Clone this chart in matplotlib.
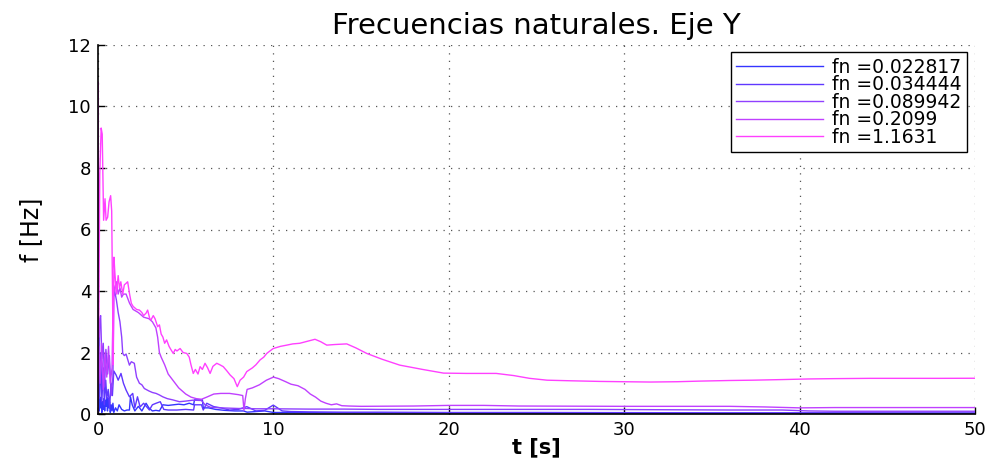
import numpy as np
import matplotlib.pyplot as plt

# Frecuencias naturales estimadas a lo largo del tiempo (eje Y)
fn = [0.022817, 0.034444, 0.089942, 0.2099, 1.1631]

t1 = [0, 0.03, 0.07, 0.1, 0.14, 0.18, 0.22, 0.26, 0.3, 0.34,
      0.38, 0.42, 0.46, 0.5, 0.54, 0.58, 0.62, 0.66, 0.7, 0.75,
      0.8, 0.85, 0.9, 1.0, 1.1, 1.2, 1.35, 1.5, 1.65, 1.79,
      1.85, 1.95, 2.1, 2.3, 2.5, 2.74, 2.9, 3.1, 3.3, 3.5,
      3.7, 4.0, 4.3, 4.6, 4.9, 5.2, 5.45, 5.5, 5.95, 6.0,
      6.3, 6.7, 7.2, 7.8, 8.3, 8.5, 9.0, 9.5, 10.0, 11.0,
      13, 15, 18, 20, 25, 30, 35, 40, 45, 50]
f1 = [0.0, 0.45, 0.1, 0.5, 0.2, 0.55, 0.05, 0.4, 0.15, 0.5,
      0.1, 0.45, 0.25, 0.55, 0.1, 0.5, 0.2, 0.4, 0.05, 0.3,
      0.1, 0.35, 0.05, 0.2, 0.1, 0.3, 0.15, 0.1, 0.13, 0.13,
      0.56, 0.3, 0.1, 0.25, 0.1, 0.35, 0.2, 0.1, 0.12, 0.1,
      0.3, 0.28, 0.3, 0.32, 0.3, 0.35, 0.3, 0.46, 0.46, 0.2,
      0.2, 0.15, 0.12, 0.1, 0.1, 0.06, 0.08, 0.1, 0.05, 0.05,
      0.04, 0.04, 0.035, 0.035, 0.03, 0.028, 0.026, 0.025, 0.023, 0.022817]

t2 = [0, 0.04, 0.1, 0.16, 0.22, 0.3, 0.36, 0.44, 0.5, 0.58,
      0.66, 0.74, 0.82, 0.9, 1.03, 1.15, 1.31, 1.45, 1.6, 1.79,
      1.98, 2.1, 2.25, 2.4, 2.6, 2.93, 3.1, 3.31, 3.55, 3.75,
      4.0, 4.5, 5.0, 5.45, 5.5, 5.9, 6.0, 6.2, 6.6, 7.0,
      7.5, 8.0, 8.48, 9.0, 9.5, 9.99, 10.5, 11.0, 12.0, 14.0,
      16, 20, 25, 30, 35, 40, 45, 50]
f2 = [0.1, 1.8, 0.5, 2.0, 0.4, 1.5, 0.3, 1.1, 0.5, 0.8,
      0.2, 1.0, 0.6, 1.4, 1.27, 1.1, 1.32, 1.0, 0.78, 0.56,
      0.67, 0.2, 0.56, 0.23, 0.35, 0.13, 0.3, 0.35, 0.4, 0.15,
      0.13, 0.13, 0.15, 0.13, 0.3, 0.3, 0.13, 0.35, 0.24, 0.2,
      0.13, 0.15, 0.24, 0.1, 0.12, 0.29, 0.1, 0.08, 0.07, 0.06,
      0.06, 0.05, 0.05, 0.045, 0.04, 0.04, 0.036, 0.034444]

t3 = [0, 0.05, 0.1, 0.15, 0.22, 0.3, 0.38, 0.45, 0.55, 0.65,
      0.75, 0.85, 0.9, 0.95, 1.05, 1.15, 1.25, 1.35, 1.41, 1.5,
      1.6, 1.79, 1.9, 2.07, 2.2, 2.36, 2.5, 2.64, 2.9, 3.1,
      3.31, 3.5, 3.69, 3.95, 4.26, 4.64, 5.0, 5.4, 5.9, 6.1,
      6.4, 7.0, 7.5, 8.0, 8.5, 9.0, 10.0, 12.0, 14.0, 16.0,
      18, 20, 24, 28, 32, 36, 39, 40.5, 42, 45,
      50]
f3 = [0.2, 1.5, 3.1, 3.2, 1.8, 2.3, 0.9, 2.1, 1.3, 1.9,
      0.6, 1.2, 3.8, 4.0, 3.7, 3.3, 3.0, 2.5, 1.97, 1.9,
      1.95, 1.59, 1.7, 1.65, 1.2, 1.0, 0.95, 0.83, 0.75, 0.7,
      0.67, 0.62, 0.56, 0.5, 0.46, 0.4, 0.42, 0.45, 0.44, 0.3,
      0.22, 0.2, 0.19, 0.18, 0.18, 0.17, 0.17, 0.16, 0.16, 0.15,
      0.15, 0.15, 0.15, 0.15, 0.14, 0.13, 0.13, 0.1, 0.09, 0.09,
      0.089942]

t4 = [0, 0.05, 0.12, 0.2, 0.3, 0.4, 0.5, 0.6, 0.7, 0.8,
      0.88, 0.95, 1.05, 1.15, 1.25, 1.35, 1.45, 1.6, 1.8, 2.0,
      2.3, 2.6, 2.9, 3.1, 3.3, 3.4, 3.5, 3.6, 3.8, 4.0,
      4.2, 4.4, 4.6, 4.8, 5.0, 5.3, 5.6, 5.9, 6.2, 6.6,
      7.0, 7.5, 8.0, 8.25, 8.32, 8.4, 8.5, 8.8, 9.2, 9.6,
      10.0, 10.3, 10.7, 11.0, 11.4, 11.8, 12.1, 12.4, 12.7, 13.0,
      13.3, 13.6, 13.9, 14.3, 15.0, 18.0, 20.0, 22.0, 24.0, 30.0,
      36.0, 38.0, 40.0, 42.0, 50.0]
f4 = [0.5, 2.2, 1.0, 2.3, 0.8, 2.0, 1.2, 2.2, 1.0, 1.5,
      4.2, 4.0, 4.3, 3.9, 4.1, 3.8, 3.9, 3.9, 3.6, 3.4,
      3.3, 3.15, 3.1, 3.0, 2.8, 2.5, 2.0, 1.85, 1.6, 1.3,
      1.15, 1.0, 0.85, 0.75, 0.65, 0.55, 0.5, 0.48, 0.55, 0.65,
      0.67, 0.67, 0.63, 0.6, 0.12, 0.5, 0.8, 0.85, 0.95, 1.1,
      1.2, 1.15, 1.05, 0.97, 0.92, 0.8, 0.65, 0.55, 0.42, 0.35,
      0.3, 0.33, 0.27, 0.26, 0.25, 0.26, 0.28, 0.28, 0.26, 0.25,
      0.25, 0.23, 0.2, 0.21, 0.2099]

t5 = [0, 0, 0.04, 0.1, 0.18, 0.24, 0.32, 0.4, 0.46, 0.55, 0.63,
      0.72, 0.78, 0.84, 0.87, 0.91, 0.96, 1.05, 1.15, 1.22, 1.3,
      1.41, 1.5, 1.6, 1.69, 1.8, 1.9, 2.0, 2.1, 2.2, 2.36,
      2.5, 2.6, 2.74, 2.83, 2.95, 3.02, 3.15, 3.25, 3.4, 3.5,
      3.6, 3.7, 3.8, 3.91, 4.05, 4.15, 4.29, 4.4, 4.5, 4.68,
      4.85, 5.06, 5.2, 5.3, 5.43, 5.55, 5.7, 5.82, 5.95, 6.1,
      6.25, 6.39, 6.55, 6.77, 6.95, 7.14, 7.35, 7.53, 7.75, 7.94,
      8.1, 8.3, 8.48, 8.8, 9.0, 9.24, 9.45, 9.62, 9.8, 9.99,
      10.4, 10.76, 11.1, 11.5, 11.9, 12.37, 12.7, 13.04, 13.5, 14.18,
      14.7, 15.32, 16.2, 17.2, 18.5, 19.7, 21.0, 22.7, 23.7, 24.6,
      25.6, 27.0, 28.6, 30.0, 31.5, 33.0, 34.3, 36.0, 37.3, 39.0,
      40.5, 41.9, 44.0, 46.2, 48.0, 50.0]
f5 = [0.0, 10.8, 2.5, 7.8, 9.3, 9.1, 6.3, 7.0, 6.3, 6.4, 6.9,
      7.1, 6.6, 3.2, 1.6, 5.1, 4.6, 3.9, 4.5, 4.1, 4.3,
      3.9, 4.2, 4.25, 4.3, 3.9, 3.6, 3.5, 3.45, 3.4, 3.38,
      3.3, 3.2, 3.28, 3.38, 3.1, 3.06, 3.2, 3.1, 2.84, 2.9,
      2.6, 2.5, 2.3, 2.41, 2.2, 2.1, 1.97, 2.1, 2.05, 2.13,
      2.0, 1.97, 1.85, 1.6, 1.32, 1.45, 1.3, 1.54, 1.45, 1.65,
      1.5, 1.32, 1.55, 1.65, 1.6, 1.54, 1.4, 1.27, 1.15, 0.89,
      1.1, 1.2, 1.38, 1.5, 1.6, 1.76, 1.85, 1.97, 2.05, 2.13,
      2.2, 2.24, 2.28, 2.3, 2.36, 2.43, 2.35, 2.24, 2.26, 2.28,
      2.15, 1.97, 1.78, 1.59, 1.45, 1.33, 1.32, 1.32, 1.25, 1.16,
      1.1, 1.08, 1.06, 1.05, 1.04, 1.05, 1.07, 1.09, 1.1, 1.12,
      1.14, 1.15, 1.16, 1.16, 1.16, 1.1631]

series_t = [t1, t2, t3, t4, t5]
series_f = [f1, f2, f3, f4, f5]
colores = ['#3535ff', '#6038ff', '#9040ff', '#c040ff', '#ff40ff']

plt.rcParams['font.family'] = ['DejaVu Sans']

fig = plt.figure(figsize=(9.95, 4.59), dpi=100)
ax = fig.add_axes([0.0985, 0.098, 0.8815, 0.804])

for t, f, c, w in zip(series_t, series_f, colores, fn):
    ax.plot(t, f, color=c, lw=1.0, label='fn =' + str(w))

ax.set_xlim(0, 50)
ax.set_ylim(0, 12)
ax.set_xticks(np.arange(0, 51, 10))
ax.set_yticks(np.arange(0, 13, 2))
ax.grid(True, color='#555555', linestyle=(0, (1, 5)), lw=0.9)

ax.spines['top'].set_visible(False)
ax.spines['right'].set_visible(False)
ax.spines['left'].set_linewidth(1.2)
ax.spines['bottom'].set_linewidth(1.2)
ax.tick_params(direction='in', length=5, width=1, labelsize=13, pad=5)

ax.set_title('Frecuencias naturales. Eje Y', fontsize=21, pad=8)
ax.set_xlabel('t [s]', fontsize=15, fontweight='bold', labelpad=-1)
ax.set_ylabel('f [Hz]', fontsize=17, labelpad=18)

leg = ax.legend(loc='upper right', bbox_to_anchor=(0.991, 0.981), fontsize=13.5,
                handlelength=4.6, labelspacing=-0.08, borderpad=0.3,
                handletextpad=0.5, borderaxespad=0.0, fancybox=False,
                framealpha=1)
leg.get_frame().set_edgecolor('black')
leg.get_frame().set_linewidth(1.0)

fig.savefig('out.png', dpi=100)
